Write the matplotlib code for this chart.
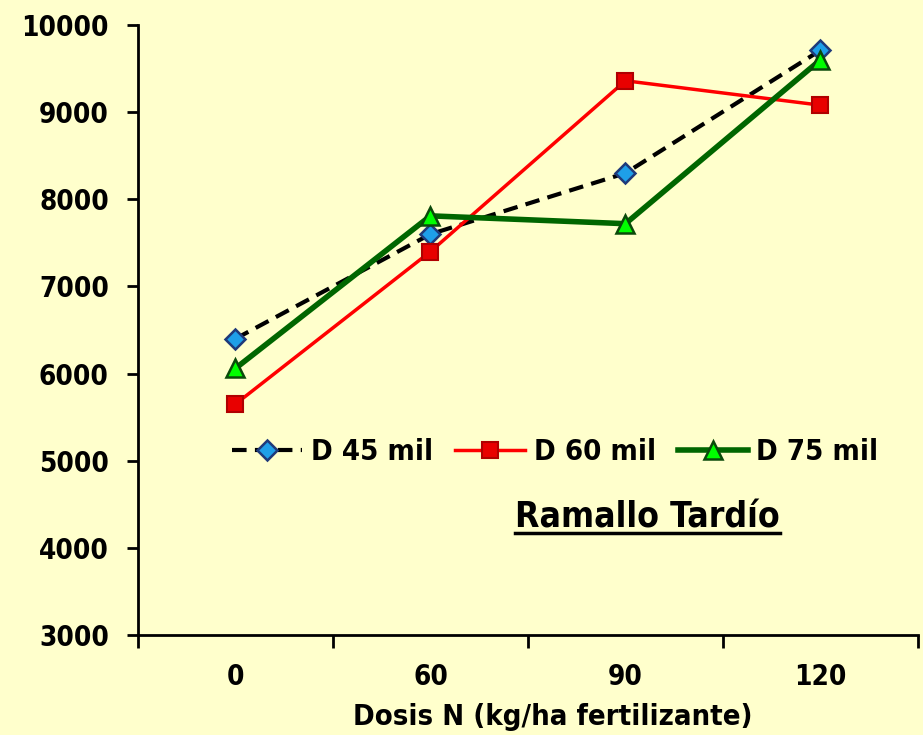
import matplotlib
matplotlib.use("Agg")
import matplotlib.pyplot as plt
from matplotlib.lines import Line2D

categories = ["0", "60", "90", "120"]
d45 = [6400, 7600, 8300, 9710]
d60 = [5650, 7400, 9360, 9080]
d75 = [6060, 7810, 7720, 9600]
y_ticks = [3000, 4000, 5000, 6000, 7000, 8000, 9000, 10000]

BG = "#FFFFCC"
FONT = dict(family="DejaVu Sans", stretch="condensed", weight="bold")

fig = plt.figure(figsize=(9.23, 7.35), dpi=100, facecolor=BG)
ax = fig.add_axes([0.1495, 0.136, 0.845, 0.83], facecolor=BG)

x = list(range(len(categories)))
ax.plot(x, d45, color="black", lw=3, ls=(0, (3.5, 2)), marker="D", ms=10,
        mfc="#1E9FE8", mec="#1F3A7A", mew=1.8, label="D 45 mil", zorder=3)
ax.plot(x, d60, color="#FF0000", lw=2.5, marker="s", ms=12,
        mfc="#E80000", mec="#B00000", mew=1.5, label="D 60 mil", zorder=3)
ax.plot(x, d75, color="#006600", lw=4, marker="^", ms=13,
        mfc="#00FF00", mec="#0A4A0A", mew=1.8, label="D 75 mil", zorder=4)

ax.set_xlim(-0.5, len(categories) - 0.5)
ax.set_ylim(3000, 10000)
ax.set_yticks(y_ticks)
ax.set_yticklabels([str(v) for v in y_ticks], fontsize=20, **FONT)
ax.set_xticks(x)
ax.set_xticklabels(categories, fontsize=20, **FONT)
ax.set_xticks([i - 0.5 for i in range(len(categories) + 1)], minor=True)
ax.tick_params(axis="x", which="major", length=0, pad=20)
ax.tick_params(axis="x", which="minor", length=9, width=2, direction="out")
ax.tick_params(axis="y", length=8, width=2, direction="out", pad=13)

for s in ("top", "right"):
    ax.spines[s].set_visible(False)
for s in ("left", "bottom"):
    ax.spines[s].set_linewidth(2)

ax.set_xlabel("Dosis N (kg/ha fertilizante)", fontsize=21, **FONT)
ax.xaxis.set_label_coords(0.532, -0.112)

leg = ax.legend(loc="center", bbox_to_anchor=(0.535, 0.3), ncol=3,
                frameon=False, handlelength=2.4, handletextpad=0.3,
                columnspacing=0.75, prop=dict(size=21, **FONT))

title = ax.text(0.653, 0.193, "Ramallo Tardío", transform=ax.transAxes,
                ha="center", va="center", fontsize=25.5, **FONT)

fig.canvas.draw()
bb = title.get_window_extent().transformed(fig.transFigure.inverted())
fig.add_artist(Line2D([bb.x0, bb.x1], [bb.y0 + 0.002, bb.y0 + 0.002],
                      transform=fig.transFigure, color="black", lw=2.5))

fig.savefig("out.png", dpi=100, facecolor=BG)
